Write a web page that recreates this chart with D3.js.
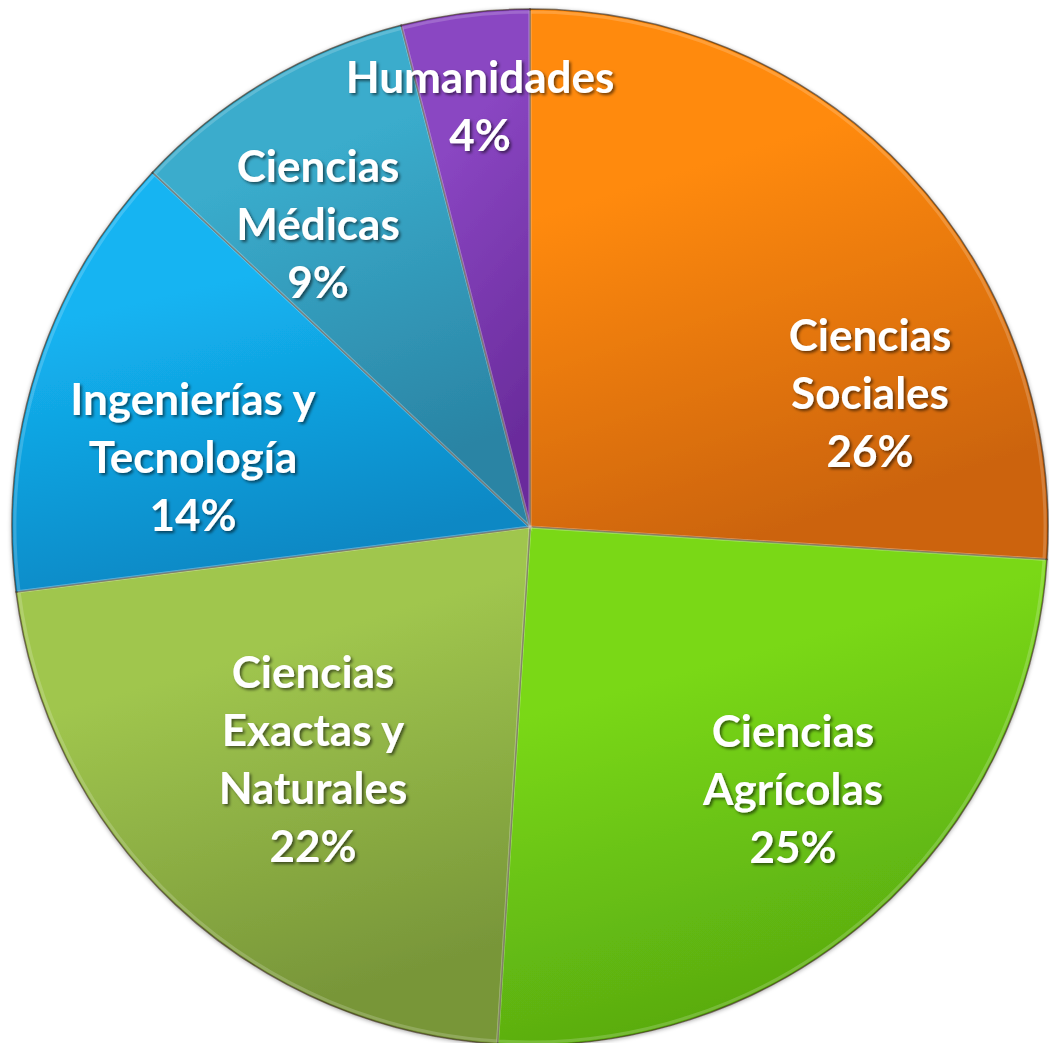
<!DOCTYPE html>
<html>
<head>
<meta charset="utf-8">
<script src="https://cdn.jsdelivr.net/npm/d3@7"></script>
<style>
  html, body { margin: 0; padding: 0; background: #fff; }
  svg { display: block; }
  .lbl { font-family: Lato, 'Open Sans', sans-serif; font-weight: 700; fill: #fff; }
</style>
</head>
<body>
<script>
const width = 1049;
const height = 1043;

// data
const categories = ['Ciencias Sociales', 'Ciencias Agrícolas', 'Ciencias Exactas y Naturales',
  'Ingenierías y Tecnología', 'Ciencias Médicas', 'Humanidades'];
const values = [26, 25, 22, 14, 9, 4];
const labelLines = [
  ['Ciencias', 'Sociales'],
  ['Ciencias', 'Agrícolas'],
  ['Ciencias', 'Exactas y', 'Naturales'],
  ['Ingenierías y', 'Tecnología'],
  ['Ciencias', 'Médicas'],
  ['Humanidades']
];
const topColors = ['#ff8a08', '#7ad816', '#a0c64e', '#14b4f2', '#3aaccc', '#8a46c2'];
const bottomColors = ['#cc640e', '#58aa10', '#789639', '#0a88c4', '#2a84a4', '#6a2c9c'];

// label layout (offset of text block center from pie center)
const labelOffset = [[340, -133], [263, 263], [-217, 233], [-337, -69], [-212, -302], [-50, -420]];

const cx = 530;
const cy = 527;
const radius = 518;
const lineH = 58;

const svg = d3.select('body')
  .append('svg')
  .attr('width', width)
  .attr('height', height);

const defs = svg.append('defs');

topColors.forEach((c, i) => {
  const g = defs.append('linearGradient')
    .attr('id', `grad${i}`)
    .attr('x1', 0).attr('y1', 0).attr('x2', 0.3).attr('y2', 1);
  g.append('stop').attr('offset', '0%').attr('stop-color', c);
  g.append('stop').attr('offset', '35%').attr('stop-color', c);
  g.append('stop').attr('offset', '100%').attr('stop-color', bottomColors[i]);
});

const shadow = defs.append('filter').attr('id', 'txtshadow')
  .attr('x', '-20%').attr('y', '-20%').attr('width', '140%').attr('height', '140%');
shadow.append('feDropShadow')
  .attr('dx', 2).attr('dy', 2).attr('stdDeviation', 1.5)
  .attr('flood-color', '#000').attr('flood-opacity', 0.55);

const pieShadow = defs.append('filter').attr('id', 'pieshadow')
  .attr('x', '-5%').attr('y', '-5%').attr('width', '110%').attr('height', '110%');
pieShadow.append('feDropShadow')
  .attr('dx', 0).attr('dy', 1).attr('stdDeviation', 2)
  .attr('flood-color', '#000').attr('flood-opacity', 0.35);

const pie = d3.pie().sort(null).value(d => d);
const arcs = pie(values);
const arc = d3.arc().innerRadius(0).outerRadius(radius);
const bevel = d3.arc().innerRadius(0).outerRadius(radius - 3);

const g = svg.append('g').attr('transform', `translate(${cx},${cy})`);

const slices = g.append('g').attr('filter', 'url(#pieshadow)');

slices.selectAll('path.slice')
  .data(arcs)
  .enter()
  .append('path')
  .attr('class', 'slice')
  .attr('d', arc)
  .attr('fill', (d, i) => `url(#grad${i})`)
  .attr('stroke', 'rgba(50,35,20,0.6)')
  .attr('stroke-width', 1.5);

// light bevel highlight inside each slice
g.selectAll('path.bevel')
  .data(arcs)
  .enter()
  .append('path')
  .attr('class', 'bevel')
  .attr('d', bevel)
  .attr('fill', 'none')
  .attr('stroke', 'rgba(255,255,255,0.18)')
  .attr('stroke-width', 3);

const labels = g.selectAll('text.lbl')
  .data(arcs)
  .enter()
  .append('text')
  .attr('class', 'lbl')
  .attr('text-anchor', 'middle')
  .attr('font-size', 44)
  .attr('filter', 'url(#txtshadow)')
  .attr('transform', (d, i) => `translate(${labelOffset[i][0]},${labelOffset[i][1]})`);

labels.each(function(d, i) {
  const lines = labelLines[i].concat([`${values[i]}%`]);
  const t = d3.select(this);
  const startY = -((lines.length - 1) * lineH) / 2;
  lines.forEach((ln, k) => {
    t.append('tspan')
      .attr('x', 0)
      .attr('y', startY + k * lineH)
      .attr('dy', '0.35em')
      .text(ln);
  });
});
</script>
</body>
</html>
